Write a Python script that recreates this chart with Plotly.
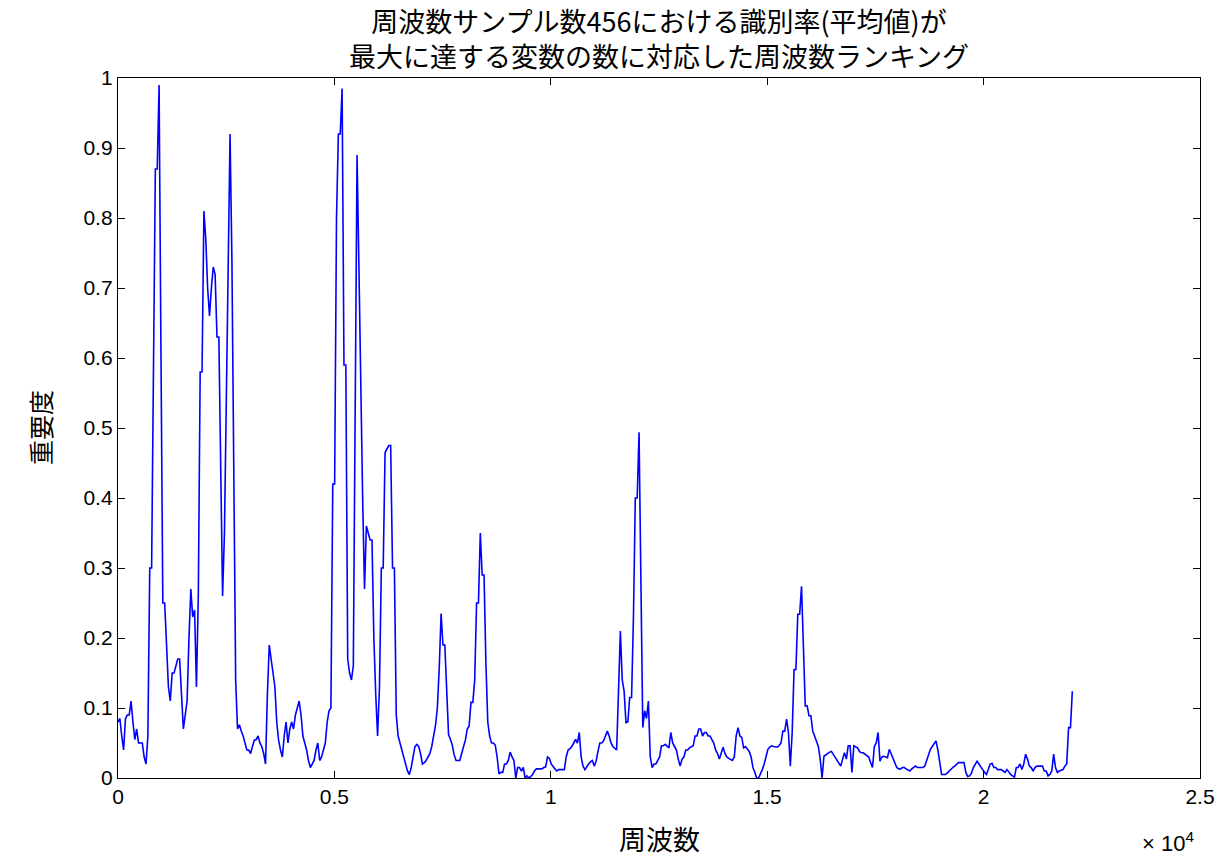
import numpy as np
import plotly.graph_objects as go

# ---- data -------------------------------------------------------------
sample_rate = 44100
n_bins = 512
freq = np.linspace(0, sample_rate / 2, n_bins)  # frequency bins (Hz)

importance = [
    0.08, 0.085, 0.06, 0.04, 0.085, 0.09, 0.09, 0.11, 0.08, 0.055, 0.07, 0.05, 0.05, 0.05, 0.03, 0.02,
    0.06, 0.30, 0.30, 0.64, 0.87, 0.87, 0.99, 0.61, 0.25, 0.25, 0.19, 0.13, 0.11, 0.15, 0.15, 0.16,
    0.17, 0.17, 0.11, 0.07, 0.09, 0.11, 0.20, 0.27, 0.23, 0.24, 0.13, 0.26, 0.58, 0.58, 0.81, 0.77,
    0.70, 0.66, 0.70, 0.73, 0.72, 0.63, 0.63, 0.43, 0.26, 0.35, 0.54, 0.77, 0.92, 0.74, 0.40, 0.14,
    0.07, 0.076, 0.067, 0.06, 0.05, 0.04, 0.04, 0.035, 0.045, 0.054, 0.055, 0.06, 0.05, 0.045, 0.035, 0.02,
    0.12, 0.19, 0.17, 0.15, 0.13, 0.08, 0.054, 0.04, 0.03, 0.06, 0.08, 0.05, 0.07, 0.08, 0.07, 0.09,
    0.10, 0.11, 0.09, 0.06, 0.05, 0.04, 0.025, 0.015, 0.02, 0.025, 0.04, 0.05, 0.025, 0.03, 0.04, 0.05,
    0.08, 0.096, 0.10, 0.42, 0.42, 0.80, 0.92, 0.92, 0.985, 0.59, 0.59, 0.17, 0.15, 0.14, 0.16, 0.54,
    0.89, 0.73, 0.54, 0.40, 0.27, 0.36, 0.35, 0.34, 0.34, 0.20, 0.12, 0.06, 0.13, 0.30, 0.30, 0.465,
    0.47, 0.475, 0.475, 0.30, 0.30, 0.09, 0.06, 0.05, 0.04, 0.03, 0.02, 0.01, 0.005, 0.015, 0.03, 0.045,
    0.048, 0.045, 0.035, 0.02, 0.022, 0.025, 0.03, 0.035, 0.045, 0.06, 0.075, 0.10, 0.156, 0.235, 0.19, 0.19,
    0.11, 0.062, 0.055, 0.047, 0.033, 0.025, 0.025, 0.025, 0.035, 0.045, 0.054, 0.07, 0.074, 0.108, 0.108, 0.14,
    0.25, 0.25, 0.35, 0.29, 0.29, 0.164, 0.08, 0.06, 0.05, 0.05, 0.047, 0.03, 0.006, 0.008, 0.008, 0.02,
    0.02, 0.025, 0.037, 0.03, 0.025, 0.0, 0.015, 0.015, 0.01, 0.015, 0.0, 0.003, 0.0, 0.002, 0.005, 0.01,
    0.013, 0.013, 0.013, 0.013, 0.015, 0.016, 0.03, 0.028, 0.02, 0.016, 0.013, 0.01, 0.012, 0.012, 0.012, 0.012,
    0.03, 0.04, 0.042, 0.045, 0.05, 0.055, 0.05, 0.065, 0.03, 0.017, 0.012, 0.017, 0.02, 0.023, 0.025, 0.017,
    0.024, 0.038, 0.05, 0.05, 0.053, 0.06, 0.067, 0.06, 0.05, 0.045, 0.043, 0.04, 0.124, 0.21, 0.14, 0.124,
    0.079, 0.08, 0.115, 0.115, 0.23, 0.40, 0.40, 0.494, 0.28, 0.072, 0.096, 0.085, 0.11, 0.03, 0.015, 0.02,
    0.02, 0.025, 0.03, 0.046, 0.046, 0.048, 0.045, 0.043, 0.065, 0.05, 0.045, 0.04, 0.027, 0.017, 0.027, 0.03,
    0.04, 0.04, 0.043, 0.045, 0.046, 0.06, 0.06, 0.07, 0.07, 0.06, 0.065, 0.065, 0.06, 0.06, 0.055, 0.05,
    0.04, 0.035, 0.027, 0.034, 0.044, 0.035, 0.03, 0.028, 0.026, 0.025, 0.03, 0.06, 0.072, 0.06, 0.058, 0.043,
    0.045, 0.042, 0.038, 0.03, 0.015, 0.008, 0.0, 0.0, 0.005, 0.012, 0.02, 0.031, 0.041, 0.044, 0.046, 0.045,
    0.044, 0.044, 0.046, 0.05, 0.067, 0.067, 0.084, 0.065, 0.017, 0.065, 0.155, 0.155, 0.234, 0.234, 0.274, 0.19,
    0.103, 0.103, 0.089, 0.089, 0.067, 0.06, 0.053, 0.045, 0.027, 0.0, 0.031, 0.033, 0.036, 0.037, 0.038, 0.034,
    0.03, 0.026, 0.022, 0.017, 0.027, 0.036, 0.027, 0.046, 0.046, 0.008, 0.046, 0.045, 0.043, 0.038, 0.036, 0.036,
    0.034, 0.032, 0.03, 0.022, 0.015, 0.045, 0.05, 0.065, 0.024, 0.03, 0.031, 0.03, 0.029, 0.041, 0.034, 0.027,
    0.02, 0.015, 0.013, 0.013, 0.015, 0.015, 0.013, 0.012, 0.01, 0.013, 0.015, 0.017, 0.015, 0.015, 0.015, 0.015,
    0.017, 0.025, 0.036, 0.041, 0.045, 0.05, 0.053, 0.04, 0.025, 0.005, 0.005, 0.005, 0.007, 0.01, 0.013, 0.015,
    0.017, 0.02, 0.022, 0.022, 0.022, 0.022, 0.008, 0.002, 0.003, 0.007, 0.015, 0.02, 0.024, 0.02, 0.015, 0.012,
    0.008, 0.005, 0.012, 0.02, 0.021, 0.015, 0.015, 0.012, 0.012, 0.012, 0.01, 0.008, 0.012, 0.008, 0.005, 0.003,
    0.001, 0.015, 0.015, 0.02, 0.012, 0.02, 0.034, 0.027, 0.017, 0.015, 0.01, 0.015, 0.017, 0.017, 0.017, 0.017,
    0.01, 0.01, 0.003, 0.005, 0.01, 0.034, 0.015, 0.008, 0.01, 0.011, 0.012, 0.017, 0.02, 0.072, 0.072, 0.124,
]

x_tickvals = [0, 5000, 10000, 15000, 20000, 25000]
x_ticktext = ["0", "0.5", "1", "1.5", "2", "2.5"]
y_tickvals = [0, 0.1, 0.2, 0.3, 0.4, 0.5, 0.6, 0.7, 0.8, 0.9, 1.0]
y_ticktext = ["0", "0.1", "0.2", "0.3", "0.4", "0.5", "0.6", "0.7", "0.8", "0.9", "1"]

title_line1 = "周波数サンプル数456における識別率(平均値)が"
title_line2 = "最大に達する変数の数に対応した周波数ランキング"
x_label = "周波数"
y_label = "重要度"

# ---- figure -----------------------------------------------------------
num_font = "Liberation Sans Narrow, Liberation Sans, Arial, sans-serif"
cjk_font = "Noto Sans CJK JP, sans-serif"

fig = go.Figure()
fig.add_trace(go.Scatter(
    x=freq, y=importance, mode="lines",
    line=dict(color="#0000ff", width=1.6),
    showlegend=False, hoverinfo="x+y",
))

axis_common = dict(
    showline=True, linecolor="black", linewidth=1.3, mirror="ticks",
    ticks="inside", ticklen=7, tickwidth=1.3, tickcolor="black",
    showgrid=False, zeroline=False,
    tickfont=dict(family=num_font, size=21, color="black"),
)

fig.update_layout(
    width=1227, height=860,
    paper_bgcolor="white", plot_bgcolor="white",
    margin=dict(l=118, r=23, t=78, b=82),
    title=dict(
        text=title_line1 + "<br>" + title_line2,
        x=0.5, xanchor="center", xref="paper",
        y=1 - 32 / 860, yanchor="middle", yref="container",
        font=dict(family=cjk_font, size=27, color="black"),
    ),
    xaxis=dict(range=[0, 25000], tickmode="array", tickvals=x_tickvals,
               ticktext=x_ticktext, **axis_common),
    yaxis=dict(range=[0, 1], tickmode="array", tickvals=y_tickvals,
               ticktext=y_ticktext, **axis_common),
    annotations=[
        dict(text=x_label, xref="paper", yref="paper", x=0.5, y=0,
             yshift=-(838 - 778), xanchor="center", yanchor="middle", showarrow=False,
             font=dict(family=cjk_font, size=27, color="black")),
        dict(text=y_label, xref="paper", yref="paper", x=0, y=0.5,
             xshift=-(118 - 40), xanchor="center", yanchor="middle", showarrow=False,
             textangle=-90, font=dict(family=cjk_font, size=25, color="black")),
        dict(text="× 10<sup>4</sup>", xref="paper", yref="paper", x=1, y=0,
             xshift=-4, yshift=-(842 - 778), xanchor="right", yanchor="middle",
             showarrow=False, font=dict(family=num_font, size=22, color="black")),
    ],
)

fig.write_html("out.html")
